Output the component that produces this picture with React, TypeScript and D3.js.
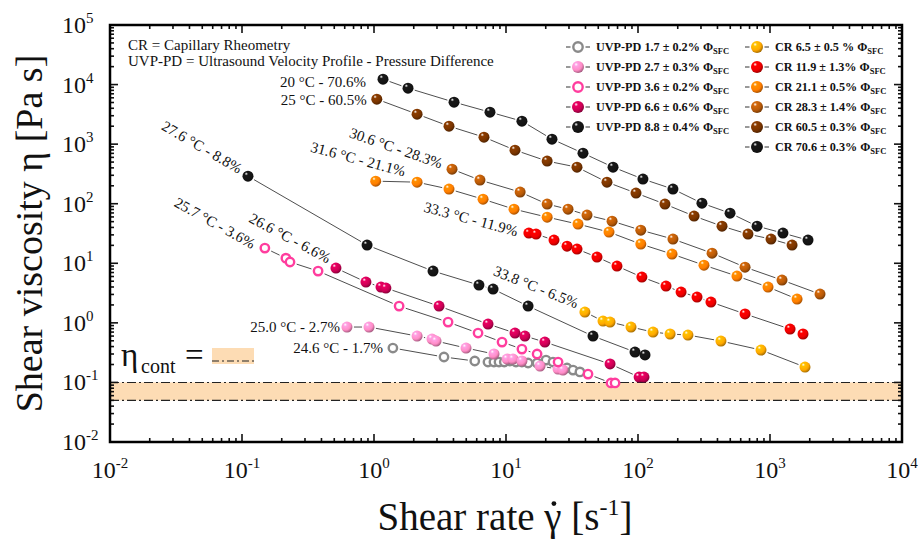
import React, { useLayoutEffect, useRef, useState } from 'react';
import * as d3 from 'd3';

type Pt = [number, number];

// shear rate [1/s], viscosity [Pa s]
const uvp17: Pt[] = [[1.39, 0.378], [3.39, 0.267], [5.8, 0.229], [7.3, 0.22], [8.1, 0.22], [8.85, 0.22], [9.7, 0.22], [10.7, 0.229], [11.9, 0.22], [13.2, 0.22], [14.7, 0.212], [17.2, 0.212], [20.1, 0.237], [22.7, 0.22], [29, 0.175], [32.2, 0.161], [36.3, 0.15]];
const uvp27: Pt[] = [[0.624, 0.851], [0.917, 0.851], [2.12, 0.6], [2.75, 0.535], [2.95, 0.495], [4.98, 0.378], [8.11, 0.3], [10.2, 0.247], [11.3, 0.247], [13.2, 0.229], [18.1, 0.188], [24.8, 0.168], [27, 0.161]];
const uvp36: Pt[] = [[0.149, 18], [0.215, 12.2], [0.231, 10.5], [0.377, 7.4], [1.55, 1.91], [3.64, 1.03], [6.14, 0.675], [9.33, 0.476], [13.2, 0.363], [17.2, 0.3], [24.8, 0.22], [41.8, 0.138], [62.4, 0.098], [67, 0.098]];
const uvp66: Pt[] = [[0.515, 8.3], [0.869, 4.84], [1.13, 3.99], [1.23, 3.84], [3.11, 1.91], [7.31, 0.955], [11.7, 0.675], [13.9, 0.6], [19.7, 0.476], [61.4, 0.204], [102, 0.123], [111, 0.123]];
const uvp88: Pt[] = [[0.111, 290], [0.886, 20.2], [2.8, 7.4], [6.24, 4.31], [7.98, 3.69], [14.7, 1.91], [45.6, 0.6], [94.9, 0.324], [113, 0.289]];

const cr65: Pt[] = [[39.6, 1.52], [54.3, 1.07], [61.4, 1.03], [88.5, 0.851], [130, 0.7], [175, 0.65], [239, 0.625], [425, 0.495], [855, 0.35], [1841, 0.181]];
const cr119: Pt[] = [[14.9, 32.1], [16.9, 30.9], [23.1, 24.5], [29, 19.4], [34.5, 17.3], [48.9, 12.7], [69.3, 8.97], [107, 5.86], [163, 4.14], [212, 3.29], [280, 2.71], [357, 2.23], [647, 1.41], [1419, 0.787], [1778, 0.65]];
const cr211: Pt[] = [[1.03, 239], [2.12, 230], [3.7, 176], [6.7, 119], [11.5, 81], [20.5, 59.5], [35.1, 45.5], [60.3, 33.4], [105, 21], [181, 14.3], [316, 9.3], [562, 6.1], [966, 3.99], [1603, 2.51]];
const cr283: Pt[] = [[3.9, 380], [6.35, 249], [12.8, 157], [20.5, 98.5], [29.5, 81], [41.1, 64.4], [63.6, 51], [105, 36], [184, 25.5], [364, 14.8], [647, 8.6], [1233, 5.22], [2393, 3.04]];
const cr605: Pt[] = [[1.05, 5690], [2.12, 3190], [3.7, 2003], [6.81, 1310], [11.7, 793], [20.5, 519], [34.5, 411], [58.2, 230], [96.6, 151], [160, 98.5], [266, 62], [433, 42], [681, 30.9], [1018, 25.5], [1469, 20.2]];
const cr706: Pt[] = [[1.17, 12330], [1.81, 8710], [4.04, 5070], [7.56, 3445], [13.2, 2432], [22.3, 1213], [38.3, 706], [64.7, 411], [109, 259], [184, 176], [305, 102], [498, 69.5], [798, 42], [1253, 32.1], [1941, 24.5]];

const contBand = [0.05, 0.1];
const xExponents = [-2, -1, 0, 1, 2, 3, 4];
const yExponents = [-2, -1, 0, 1, 2, 3, 4, 5];

const uvpLegend = ['UVP-PD 1.7 ± 0.2% ', 'UVP-PD 2.7 ± 0.3% ', 'UVP-PD 3.6 ± 0.2% ', 'UVP-PD 6.6 ± 0.6% ', 'UVP-PD 8.8 ± 0.4% '];
const crLegend = ['CR 6.5 ± 0.5 %  ', 'CR 11.9 ± 1.3% ', 'CR 21.1 ± 0.5% ', 'CR 28.3 ± 1.4% ', 'CR 60.5 ± 0.3% ', 'CR 70.6 ± 0.3% '];

const series = [
  { key: 'u17', data: uvp17, color: '#8a8a8a', open: true, legend: uvpLegend[0], col: 0, row: 0 },
  { key: 'u27', data: uvp27, color: '#ff8cc6', open: false, legend: uvpLegend[1], col: 0, row: 1 },
  { key: 'u36', data: uvp36, color: '#ff3d9e', open: true, legend: uvpLegend[2], col: 0, row: 2 },
  { key: 'u66', data: uvp66, color: '#cc0055', open: false, legend: uvpLegend[3], col: 0, row: 3 },
  { key: 'u88', data: uvp88, color: '#151515', open: false, legend: uvpLegend[4], col: 0, row: 4 },
  { key: 'c65', data: cr65, color: '#ffa800', open: false, legend: crLegend[0], col: 1, row: 0 },
  { key: 'c119', data: cr119, color: '#f00000', open: false, legend: crLegend[1], col: 1, row: 1 },
  { key: 'c211', data: cr211, color: '#ff7d00', open: false, legend: crLegend[2], col: 1, row: 2 },
  { key: 'c283', data: cr283, color: '#b85a08', open: false, legend: crLegend[3], col: 1, row: 3 },
  { key: 'c605', data: cr605, color: '#7a3500', open: false, legend: crLegend[4], col: 1, row: 4 },
  { key: 'c706', data: cr706, color: '#151515', open: false, legend: crLegend[5], col: 1, row: 5 },
];

const annotations = [
  { text: '20 °C - 70.6%', x: 0.87, y: 11000, angle: 0, anchor: 'end' },
  { text: '25 °C - 60.5%', x: 0.88, y: 5470, angle: 0, anchor: 'end' },
  { text: '27.6 °C - 8.8%', x: 0.0497, y: 891, angle: 30, anchor: 'middle' },
  { text: '30.6 °C - 28.3%', x: 1.47, y: 857, angle: 19, anchor: 'middle' },
  { text: '31.6 °C - 21.1%', x: 0.757, y: 560, angle: 15, anchor: 'middle' },
  { text: '33.3 °C - 11.9%', x: 5.43, y: 55.2, angle: 15, anchor: 'middle' },
  { text: '33.8 °C - 6.5%', x: 16.9, y: 3.99, angle: 22, anchor: 'middle' },
  { text: '25.7 °C - 3.6%', x: 0.0624, y: 47.2, angle: 29, anchor: 'middle' },
  { text: '26.6 °C - 6.6%', x: 0.231, y: 26.5, angle: 28, anchor: 'middle' },
  { text: '25.0 °C - 2.7%', x: 0.552, y: 0.851, angle: 0, anchor: 'end' },
  { text: '24.6 °C - 1.7%', x: 1.17, y: 0.378, angle: 0, anchor: 'end' },
];

const FONT = '"Liberation Serif", "DejaVu Serif", serif';

const App: React.FC = () => {
  const width = 921;
  const height = 540;
  const left = 110, right = 902, top = 25, bottom = 442;

  const x = d3.scaleLog().domain([1e-2, 1e4]).range([left, right]);
  const y = d3.scaleLog().domain([1e-2, 1e5]).range([bottom, top]);

  const xTicks = x.ticks();
  const yTicks = y.ticks();
  const isMajor = (v: number) => Math.abs(Math.log10(v) - Math.round(Math.log10(v))) < 1e-6;

  // dot over gamma: placed from the measured glyph box
  const titleRef = useRef<SVGTextElement | null>(null);
  const [dot, setDot] = useState<{ x: number; y: number } | null>(null);
  useLayoutEffect(() => {
    const el = titleRef.current;
    if (!el) return;
    const idx = 'Shear rate '.length;
    try {
      const box = el.getExtentOfChar(idx);
      setDot({ x: box.x + box.width / 2 + 1, y: box.y + box.height * 0.2 });
    } catch (e) {
      /* ignore */
    }
  }, []);

  const R = 5.5;

  // connecting segments with a small gap around the symbols
  const segments = (data: Pt[]) => {
    const out: { x1: number; y1: number; x2: number; y2: number }[] = [];
    for (let i = 1; i < data.length; i++) {
      const ax = x(data[i - 1][0]), ay = y(data[i - 1][1]);
      const bx = x(data[i][0]), by = y(data[i][1]);
      const len = Math.hypot(bx - ax, by - ay);
      const gap = R + 1.5;
      if (len <= gap * 2) continue;
      const ux = (bx - ax) / len, uy = (by - ay) / len;
      out.push({ x1: ax + ux * gap, y1: ay + uy * gap, x2: bx - ux * gap, y2: by - uy * gap });
    }
    return out;
  };

  const marker = (s: typeof series[number], cx: number, cy: number, r: number, k: string) =>
    s.open ? (
      <circle key={k} cx={cx} cy={cy} r={r - 1.3} fill="#fff" stroke={s.color} strokeWidth={2.4} />
    ) : (
      <circle key={k} cx={cx} cy={cy} r={r} fill={`url(#grad-${s.key})`} />
    );

  const dashDot = '9,3,2,3';

  return (
    <div style={{ position: 'absolute', left: 0, top: 0, background: '#fff' }}>
      <svg width={width} height={height} style={{ display: 'block', fontFamily: FONT }}>
        <defs>
          {series.map(s => {
            const c = d3.color(s.color)!;
            return (
              <radialGradient key={s.key} id={`grad-${s.key}`} cx="38%" cy="34%" r="70%" fx="34%" fy="28%">
                <stop offset="0%" stopColor="#ffffff" />
                <stop offset="22%" stopColor={c.brighter(0.4).formatHex()} />
                <stop offset="65%" stopColor={s.color} />
                <stop offset="100%" stopColor={c.darker(1.4).formatHex()} />
              </radialGradient>
            );
          })}
          <clipPath id="plot-clip">
            <rect x={left} y={top} width={right - left} height={bottom - top} />
          </clipPath>
        </defs>
        <rect x={0} y={0} width={width} height={height} fill="#fff" />

        {/* continuous-phase viscosity band */}
        <rect x={left} y={y(contBand[1])} width={right - left} height={y(contBand[0]) - y(contBand[1])} fill="#fddcb4" />
        {contBand.map(v => (
          <line key={v} x1={left} x2={right} y1={y(v)} y2={y(v)} stroke="#222" strokeWidth={1.1} strokeDasharray={dashDot} />
        ))}

        {/* ticks on all four sides */}
        {xTicks.map((t, i) => {
          const len = isMajor(t) ? 8 : 4;
          return (
            <g key={`xt${i}`} stroke="#111" strokeWidth={1.6}>
              <line x1={x(t)} x2={x(t)} y1={bottom} y2={bottom - len} />
              <line x1={x(t)} x2={x(t)} y1={top} y2={top + len} />
            </g>
          );
        })}
        {yTicks.map((t, i) => {
          const len = isMajor(t) ? 8 : 4;
          return (
            <g key={`yt${i}`} stroke="#111" strokeWidth={1.6}>
              <line x1={left} x2={left + len} y1={y(t)} y2={y(t)} />
              <line x1={right} x2={right - len} y1={y(t)} y2={y(t)} />
            </g>
          );
        })}

        {/* series */}
        <g clipPath="url(#plot-clip)">
          {series.map(s => (
            <g key={`l-${s.key}`} stroke="#3a3a3a" strokeWidth={0.9}>
              {segments(s.data).map((sg, i) => (
                <line key={i} {...sg} />
              ))}
            </g>
          ))}
          {series.map(s => (
            <g key={`m-${s.key}`}>{s.data.map((d, i) => marker(s, x(d[0]), y(d[1]), R, `${s.key}-${i}`))}</g>
          ))}
        </g>

        {/* annotations */}
        {annotations.map((a, i) => (
          <text
            key={`a${i}`}
            x={x(a.x)}
            y={y(a.y)}
            fontSize={15}
            fill="#111"
            textAnchor={a.anchor}
            dominantBaseline="central"
            transform={`rotate(${a.angle} ${x(a.x)} ${y(a.y)})`}
          >
            {a.text}
          </text>
        ))}

        {/* frame */}
        <rect x={left} y={top} width={right - left} height={bottom - top} fill="none" stroke="#000" strokeWidth={2.5} />

        {/* tick labels */}
        {xExponents.map(e => (
          <text key={`xl${e}`} x={x(Math.pow(10, e))} y={478} fontSize={24} textAnchor="middle" fill="#111">
            10<tspan dy={-10} fontSize={15}>{e}</tspan>
          </text>
        ))}
        {yExponents.map(e => (
          <text key={`yl${e}`} x={62} y={y(Math.pow(10, e)) + 8} fontSize={24} fill="#111">
            10<tspan dy={-10} fontSize={15}>{e}</tspan>
          </text>
        ))}

        {/* axis titles */}
        <text ref={titleRef} x={505} y={530} fontSize={39} textAnchor="middle" fill="#111">
          Shear rate γ [s<tspan dy={-15} fontSize={24}>-1</tspan><tspan dy={15}>]</tspan>
        </text>
        {dot && <circle cx={dot.x} cy={dot.y} r={2.4} fill="#111" />}
        <text transform={`translate(42, ${(top + bottom) / 2}) rotate(-90)`} fontSize={38} textAnchor="middle" fill="#111">
          Shear viscosity η [Pa s]
        </text>

        {/* method notes */}
        <text x={128} y={50} fontSize={15} fill="#111">CR = Capillary Rheometry</text>
        <text x={128} y={66} fontSize={15} fill="#111">UVP-PD = Ultrasound Velocity Profile - Pressure Difference</text>

        {/* legend */}
        {series.map(s => {
          const sx = s.col === 0 ? 578 : 757;
          const sy = 47 + s.row * 20;
          return (
            <g key={`lg-${s.key}`}>
              <line x1={sx - 12} x2={sx - 7.5} y1={sy} y2={sy} stroke="#333" strokeWidth={1} />
              <line x1={sx + 7.5} x2={sx + 12} y1={sy} y2={sy} stroke="#333" strokeWidth={1} />
              {marker(s, sx, sy, 6, `lgm-${s.key}`)}
              <text x={sx + 18} y={sy + 4} fontSize={12.2} fontWeight="bold" fill="#111">
                {s.legend}Φ<tspan dy={3} fontSize={8.5}>SFC</tspan>
              </text>
            </g>
          );
        })}

        {/* eta_cont key */}
        <text x={121} y={366} fontSize={33} fill="#111">η</text>
        <text x={141} y={373} fontSize={20} fill="#111">cont</text>
        <text x={185} y={366} fontSize={33} fill="#111">=</text>
        <rect x={212} y={348} width={42} height={16} fill="#fddcb4" />
        <line x1={212} x2={254} y1={361} y2={361} stroke="#222" strokeWidth={1.1} strokeDasharray="7,3,2,3" />
      </svg>
    </div>
  );
};

export default App;
